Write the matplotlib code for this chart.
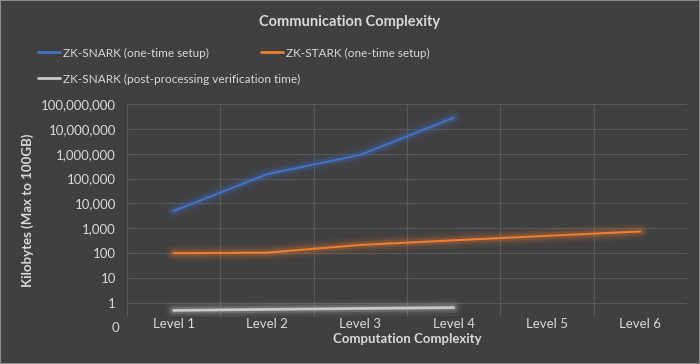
import matplotlib
matplotlib.use("Agg")
from matplotlib import pyplot as plt
import matplotlib.patheffects as pe
import numpy as np

levels = ["Level 1", "Level 2", "Level 3", "Level 4", "Level 5", "Level 6"]
snark_setup = [5000, 150000, 900000, 28000000]
stark_setup = [100, 105, 215, 330, 500, 750]
snark_verify = [0.5, 0.55, 0.6, 0.65]
ytick_vals = [1, 10, 100, 1000, 10000, 100000, 1000000, 10000000, 100000000]

bg = "#404040"
txt = "#d9d9d9"
grid_c = "#595959"

plt.rcParams['font.family'] = ['Lato', 'DejaVu Sans']

fig = plt.figure(figsize=(7, 3.64), dpi=100, facecolor=bg)
fig.patches.append(plt.Rectangle((0, 0), 1, 1, transform=fig.transFigure,
                                 fill=False, edgecolor="#8c8c8c", linewidth=1.5))
ax = fig.add_axes([127 / 700, 1 - 317 / 364, 560 / 700, 213 / 364])
ax.set_facecolor(bg)

def glow(color):
    return [pe.Stroke(linewidth=12, foreground=color, alpha=0.06),
            pe.Stroke(linewidth=8, foreground=color, alpha=0.1),
            pe.Stroke(linewidth=5, foreground=color, alpha=0.2),
            pe.Normal()]

series = [
    ("ZK-SNARK (one-time setup)", snark_setup, "#4472c4", 1.5),
    ("ZK-STARK (one-time setup)", stark_setup, "#ed7d31", 1.5),
    ("ZK-SNARK (post-processing verification time)", snark_verify, "#c8c8c8", 2),
]
handles = []
for label, vals, col, lw in series:
    x = np.arange(len(vals))
    ln, = ax.plot(x, vals, color=col, linewidth=lw, label=label,
                  path_effects=glow(col), solid_capstyle="round", zorder=3)
    handles.append(ln)

ax.set_yscale("log")
ax.set_ylim(0.272, 1e8)
ax.set_xlim(-0.5, len(levels) - 0.5)
ax.set_yticks(ytick_vals)
ax.set_yticklabels([f"{v:,}" for v in ytick_vals])
ax.yaxis.set_minor_locator(matplotlib.ticker.NullLocator())
ax.set_xticks(range(len(levels)))
ax.set_xticklabels(levels)
ax.set_xticks(np.arange(-0.5, len(levels)), minor=True)
ax.tick_params(axis="both", which="both", length=0, colors=txt, labelsize=9.5)
ax.tick_params(axis="x", pad=1)
ax.tick_params(axis="y", pad=8)
ax.grid(True, axis="y", which="major", color=grid_c, linewidth=0.8)
ax.grid(True, axis="x", which="minor", color=grid_c, linewidth=0.8)
ax.set_axisbelow(True)
for s in ax.spines.values():
    s.set_visible(False)

# the "0" label at 0.1 sits just under the plot area
trans = matplotlib.transforms.blended_transform_factory(ax.transAxes, ax.transData)
ax.text(-8 / 560, 0.1, "0", transform=trans, color=txt, fontsize=9.5,
        ha="right", va="center", clip_on=False)

ax.set_ylabel("Kilobytes (Max to 100GB)", color=txt, fontsize=9.5, fontweight="bold")
ax.yaxis.set_label_coords(-93 / 560, 0.5)
ax.set_xlabel("Computation Complexity", color=txt, fontsize=9.5, fontweight="bold",
              labelpad=2)

fig.text(0.5, 1 - 22 / 364, "Communication Complexity", color=txt, fontsize=10.5,
         fontweight="bold", ha="center", va="center")

# Excel flows legend entries; place each entry on its own
legend_pos = [(38, 53), (261, 53), (38, 79)]
for h, (px, py) in zip(handles, legend_pos):
    leg = fig.legend([h], [h.get_label()], loc="center left",
                     bbox_to_anchor=(px / 700, 1 - py / 364), frameon=False,
                     fontsize=8.5, labelcolor=txt,
                     handlelength=1.9, handletextpad=0.2, borderpad=0,
                     borderaxespad=0)
    for lh in leg.get_lines():
        lh.set_path_effects([])
        lh.set_linewidth(2)

fig.savefig("out.png", dpi=100, facecolor=bg)
